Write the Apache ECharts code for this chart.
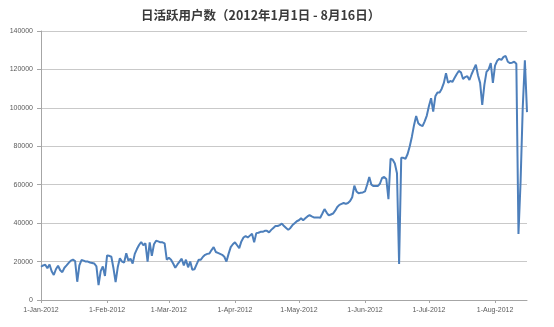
<!DOCTYPE html>
<html>
<head>
<meta charset="utf-8">
<script src="https://cdn.jsdelivr.net/npm/echarts@6/dist/echarts.min.js"></script>
<style>
html,body{margin:0;padding:0;background:#fff;}
#c{width:554px;height:327px;}
</style>
</head>
<body>
<div id="c"></div>
<script>
// Daily active users, 1 Jan 2012 - 16 Aug 2012
const startDate = '2012-01-01';
const monthNames = ['Jan','Feb','Mar','Apr','May','Jun','Jul','Aug','Sep','Oct','Nov','Dec'];
const yTicks = [0, 20000, 40000, 60000, 80000, 100000, 120000, 140000];
const dailyUsers = [
  17300, 18000, 18300, 16500, 18500, 15000, 13000, 16000, 17800, 15500,
  14500, 16800, 18000, 19300, 20500, 21000, 20300, 9500, 18000, 20800,
  20500, 20000, 20000, 19500, 19300, 19000, 17500, 7800, 15000, 17500,
  12500, 23200, 23000, 22500, 16500, 9300, 17000, 21700, 20000, 19500,
  24300, 20500, 21500, 19000, 24000, 26500, 28600, 30200, 28500, 29500,
  20000, 30000, 23000, 29000, 30800, 30500, 30000, 30000, 29500, 21000,
  22000, 21000, 19000, 16800, 18500, 20000, 21500, 18000, 21000, 17000,
  20000, 15800, 16000, 18500, 21000, 21000, 22500, 23500, 24000, 24200,
  26000, 27500, 25000, 24500, 24000, 23500, 22500, 20000, 24000, 27500,
  29000, 30000, 28500, 27000, 30500, 32500, 33300, 32500, 33500, 34500,
  30000, 34800, 35000, 35500, 35500, 36000, 36000, 35200, 36500, 37500,
  38500, 38500, 39000, 39800, 38500, 37500, 36500, 37500, 39000, 40000,
  41000, 41500, 42500, 41500, 42500, 43500, 44200, 43500, 43000, 43000,
  43000, 42800, 45000, 47300, 45500, 44000, 44500, 45000, 46500, 48400,
  49500, 50000, 50500, 50000, 50500, 51500, 53500, 59500, 56500, 55500,
  55800, 56000, 56500, 60000, 64000, 60000, 59300, 59300, 59300, 60500,
  63500, 64000, 63000, 52500, 73500, 73000, 71000, 66000, 18700, 74000,
  74000, 73500, 76000, 80000, 85000, 91000, 95800, 92000, 91000, 90500,
  93000, 96000, 101000, 105000, 98000, 106000, 108000, 108000, 110000, 113000,
  118000, 113000, 114000, 113500, 115500, 117500, 119200, 118500, 115000, 116000,
  116500, 114500, 117500, 120000, 122500, 117000, 113000, 101500, 112000, 118700,
  120000, 123300, 113000, 122000, 124500, 125500, 125000, 126500, 127000, 124000,
  123300, 123500, 124000, 123000, 34400, 62000, 100000, 124800, 97800
];

// category labels: one date per value, formatted like "1-Jan-2012"
const categories = dailyUsers.map((_, i) => {
  const d = new Date(startDate + 'T00:00:00Z');
  d.setUTCDate(d.getUTCDate() + i);
  return d.getUTCDate() + '-' + monthNames[d.getUTCMonth()] + '-' + d.getUTCFullYear();
});
const isMonthStart = (idx, val) => val.indexOf('1-') === 0;

const chart = echarts.init(document.getElementById('c'), null, {renderer: 'canvas'});
chart.setOption({
  animation: false,
  backgroundColor: '#ffffff',
  title: {
    text: '日活跃用户数（2012年1月1日 - 8月16日）',
    left: 136,
    top: 4,
    textStyle: {
      fontFamily: '"Noto Sans CJK SC", sans-serif',
      fontSize: 12.5,
      fontWeight: 'bold',
      color: '#3a3a3a'
    }
  },
  grid: {left: 41, right: 27, top: 31, bottom: 27, containLabel: false},
  xAxis: {
    type: 'category',
    data: categories,
    boundaryGap: false,
    axisLine: {lineStyle: {color: '#a6a6a6', width: 1}},
    axisTick: {show: true, interval: isMonthStart, length: 3, lineStyle: {color: '#a6a6a6'}},
    axisLabel: {
      interval: isMonthStart,
      margin: 7,
      fontSize: 7,
      fontFamily: '"Liberation Sans", Arial, sans-serif',
      color: '#5a5a5a'
    },
    splitLine: {show: false}
  },
  yAxis: {
    type: 'value',
    min: yTicks[0],
    max: yTicks[yTicks.length - 1],
    interval: yTicks[1] - yTicks[0],
    axisLine: {show: true, lineStyle: {color: '#a6a6a6', width: 1}},
    axisTick: {show: true, length: 4, lineStyle: {color: '#a6a6a6'}},
    axisLabel: {
      margin: 8,
      fontSize: 7,
      fontFamily: '"Liberation Sans", Arial, sans-serif',
      color: '#5a5a5a',
      formatter: v => String(v)
    },
    splitLine: {show: true, lineStyle: {color: '#c9c9c9', width: 1}}
  },
  series: [{
    type: 'line',
    data: dailyUsers,
    showSymbol: false,
    symbol: 'none',
    lineStyle: {color: '#4d7fbb', width: 2},
    itemStyle: {color: '#4d7fbb'}
  }]
});
</script>
</body>
</html>
